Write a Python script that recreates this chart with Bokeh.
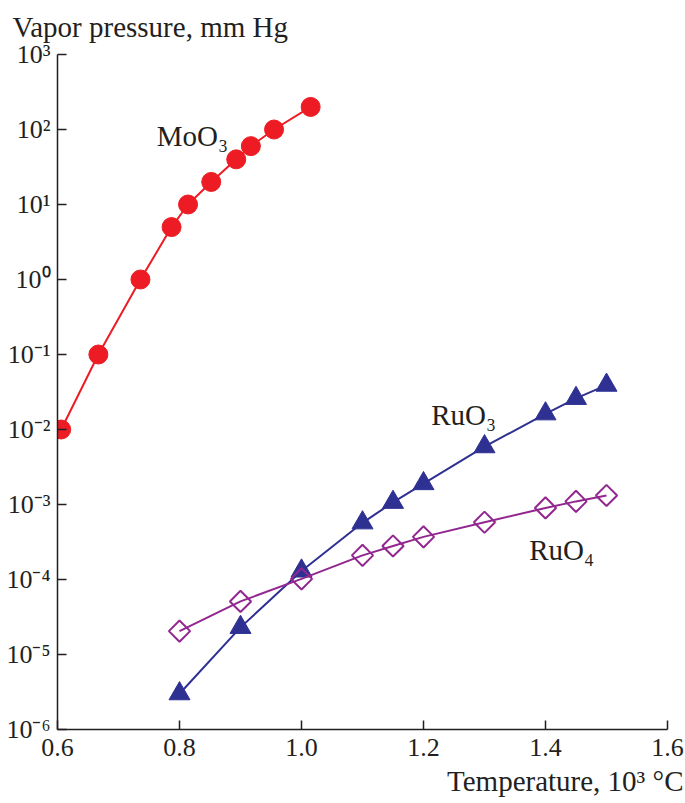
import math
from bokeh.plotting import figure
from bokeh.models import Range1d, FixedTicker, Title, ColumnDataSource
from bokeh.core.properties import value
from bokeh.embed import file_html
from bokeh.resources import INLINE

# ---- data ----
moo3_t = [0.606, 0.667, 0.736, 0.787, 0.814, 0.852, 0.893, 0.917, 0.955, 1.015]
moo3_p = [1e-2, 1e-1, 1.0, 5.0, 10.0, 20.0, 40.0, 60.0, 100.0, 200.0]

ruo3_t = [0.80, 0.90, 1.00, 1.10, 1.15, 1.20, 1.30, 1.40, 1.45, 1.50]
ruo3_p = [3.0e-6, 2.3e-5, 1.3e-4, 5.7e-4, 1.07e-3, 1.9e-3, 5.9e-3, 1.62e-2, 2.6e-2, 3.9e-2]

ruo4_t = [0.80, 0.90, 1.00, 1.10, 1.15, 1.20, 1.30, 1.40, 1.45, 1.50]
ruo4_p = [2.05e-5, 5.1e-5, 1.02e-4, 2.1e-4, 2.8e-4, 3.7e-4, 5.8e-4, 9.0e-4, 1.1e-3, 1.32e-3]

x_ticks = [0.6, 0.8, 1.0, 1.2, 1.4, 1.6]
x_tick_labels = ["0.6", "0.8", "1.0", "1.2", "1.4", "1.6"]
y_ticks = [1e-6, 1e-5, 1e-4, 1e-3, 1e-2, 1e-1, 1e0, 1e1, 1e2, 1e3]
y_tick_labels = ["10\u207b\u2076", "10\u207b\u2075", "10\u207b\u2074", "10\u207b\u00b3",
                 "10\u207b\u00b2", "10\u207b\u00b9", "10\u2070", "10\u00b9", "10\u00b2", "10\u00b3"]

series_names = ["MoO\u2083", "RuO\u2083", "RuO\u2084"]
label_x = [0.7626, 1.2125, 1.3734]
label_y = [83.0, 0.0154, 2.5e-4]

y_title = "Vapor pressure, mm Hg"
x_title = "Temperature, 10\u00b3 \u00b0C"

RED = "#ED1C24"
NAVY = "#2E3192"
PURPLE = "#92278F"
INK = "#231F20"
FONT = "Liberation Serif"

p = figure(width=685, height=803, output_backend="svg", toolbar_location=None,
           x_range=Range1d(0.6, 1.6), y_range=Range1d(1e-6, 1e3), y_axis_type="log",
           min_border_left=57, min_border_right=18, min_border_top=54, min_border_bottom=74)
p.outline_line_color = None
p.grid.visible = False
p.background_fill_color = "white"

for ax in (p.xaxis[0], p.yaxis[0]):
    ax.axis_line_color = INK
    ax.axis_line_width = 1.5
    ax.major_tick_line_color = INK
    ax.major_tick_line_width = 1.5
    ax.major_tick_in = 9
    ax.major_tick_out = 0
    ax.minor_tick_line_color = None
    ax.major_label_text_font = FONT
    ax.major_label_text_font_size = "26px"
    ax.major_label_text_color = INK

p.xaxis.ticker = FixedTicker(ticks=x_ticks)
p.xaxis.major_label_overrides = {t: l for t, l in zip(x_ticks, x_tick_labels)}
p.xaxis.major_label_standoff = 9
p.yaxis.ticker = FixedTicker(ticks=y_ticks)
p.yaxis.major_label_overrides = {t: l for t, l in zip(y_ticks, y_tick_labels)}
p.yaxis.major_label_standoff = 7

# series
p.line(moo3_t, moo3_p, line_color=RED, line_width=2)
p.scatter(moo3_t, moo3_p, marker="circle", size=19, fill_color=RED, line_color=RED)

p.line(ruo3_t, ruo3_p, line_color=NAVY, line_width=2)
p.scatter(ruo3_t, ruo3_p, marker="triangle", size=21, fill_color=NAVY, line_color=NAVY)

p.line(ruo4_t, ruo4_p, line_color=PURPLE, line_width=2)
p.scatter(ruo4_t, ruo4_p, marker="square", size=15, angle=math.pi / 4,
          fill_color=None, line_color=PURPLE, line_width=2)

# series labels
src = ColumnDataSource(dict(x=label_x, y=label_y, t=series_names))
p.text(x="x", y="y", text="t", source=src, text_font=value(FONT), text_font_size="29px",
       text_color=INK, text_align="left", text_baseline="alphabetic")

# axis titles
p.add_layout(Title(text=y_title, align="left", offset=-45, standoff=20, vertical_align="top",
                   text_font=FONT, text_font_size="29px", text_color=INK,
                   text_font_style="normal"), "above")
p.add_layout(Title(text=x_title, align="right", offset=-16, standoff=8,
                   text_font=FONT, text_font_size="29px", text_color=INK,
                   text_font_style="normal"), "below")

open("out.html", "w").write(file_html(p, INLINE))
